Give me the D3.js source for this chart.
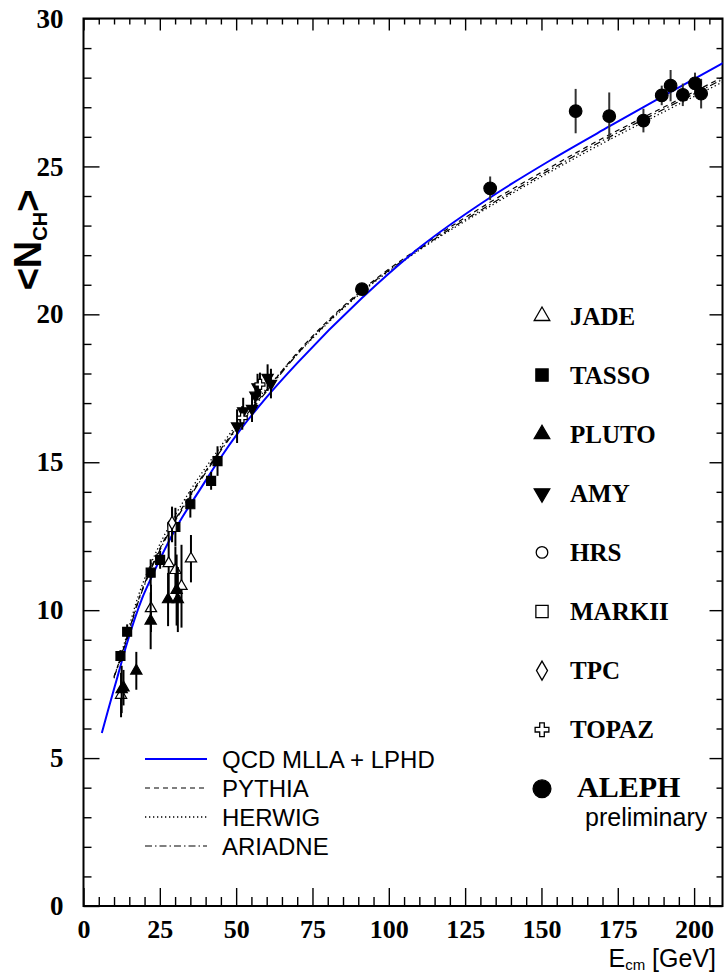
<!DOCTYPE html>
<html>
<head>
<meta charset="utf-8">
<script src="https://cdn.jsdelivr.net/npm/d3@7"></script>
<style>
  body { margin: 0; background: #fff; }
  svg { display: block; }
</style>
</head>
<body>
<div id="chart"></div>
<script>
var jadeE = [12.3, 22.1, 27.9, 30.1, 32.1, 35.2];
var jadeN = [7.13, 10.06, 11.58, 11.35, 10.81, 11.74];
var jadeErr = [0.75, 0.8, 1.3, 0.8, 1.4, 0.8];

var tassoE = [12.1, 14.3, 22.0, 25.1, 30.1, 35.0, 41.8, 43.9];
var tassoN = [8.45, 9.27, 11.27, 11.7, 12.81, 13.58, 14.37, 15.04];
var tassoErr = [0.2, 0.25, 0.45, 0.3, 0.65, 0.45, 0.3, 0.5];

var plutoE = [12.5, 13.1, 17.3, 22.0, 27.7, 30.5, 30.9];
var plutoN = [7.32, 7.38, 7.95, 9.64, 10.36, 10.68, 10.36];
var plutoErr = [0.8, 0.6, 0.64, 0.96, 0.9, 1.2, 1.1];

var amyE = [50.3, 52.3, 55.2, 56.3, 57.0, 60.3, 61.4];
var amyN = [16.22, 16.73, 16.81, 17.26, 17.54, 17.86, 17.66];
var amyErr = [0.57, 0.45, 0.45, 0.42, 0.45, 0.45, 0.5];

var hrsE = [29.0], hrsN = [12.9], hrsErr = [0.6];
var markiiE = [29.0], markiiN = [12.8], markiiErr = [0.5];
var tpcE = [29.0], tpcN = [12.95], tpcErr = [0.5];
var topazE = [52.0, 57.8], topazN = [16.5, 17.63], topazErr = [0.4, 0.4];

var alephE = [91.2, 133.2, 161.2, 172.2, 183.4, 189.4, 192.3, 196.3, 200.3, 202.3];
var alephN = [20.85, 24.26, 26.87, 26.7, 26.55, 27.4, 27.73, 27.42, 27.81, 27.46];
var alephErr = [0.2, 0.4, 0.75, 0.8, 0.4, 0.33, 0.53, 0.38, 0.36, 0.5];

// model curves
var qcdE = [6.0, 8.0, 11.0, 14.0, 19.2, 22.0, 30.7, 38.3, 43.9, 51.4, 60.0, 70.0, 91.2, 110, 133.2, 152.8, 172.2, 189.4, 209.5];
var qcdN = [5.85, 6.6, 7.7, 8.8, 10.4, 11.05, 12.85, 14.1, 15.0, 16.1, 17.2, 18.35, 20.55, 22.25, 23.95, 25.2, 26.35, 27.35, 28.5];

var mcE = [10, 12, 14, 18, 22, 30, 35, 44, 50, 60, 70, 91.2, 110, 133, 150, 170, 190, 209.5];
var pythiaN = [7.75, 8.35, 9.0, 10.35, 11.4, 13.05, 13.9, 15.3, 16.15, 17.45, 18.7, 20.82, 22.25, 23.78, 24.8, 25.95, 27.0, 28.02];
var herwigN = [7.7, 8.4, 9.1, 10.5, 11.55, 13.2, 14.05, 15.4, 16.25, 17.5, 18.65, 20.75, 22.17, 23.64, 24.65, 25.78, 26.84, 27.86];
var ariadneN = [7.75, 8.3, 8.95, 10.3, 11.35, 13.0, 13.85, 15.25, 16.1, 17.4, 18.65, 20.78, 22.2, 23.7, 24.72, 25.87, 26.93, 27.95];

var xMajor = [0, 25, 50, 75, 100, 125, 150, 175, 200];
var yMajor = [0, 5, 10, 15, 20, 25, 30];

var width = 724, height = 977;
var serif = '"Liberation Serif", "Times New Roman", serif';
var sans = '"Liberation Sans", Arial, sans-serif';

var x = d3.scaleLinear().domain([0, 209.3]).range([83.5, 722.5]);
var y = d3.scaleLinear().domain([0, 30]).range([906, 18.5]);

var svg = d3.select('#chart').append('svg')
    .attr('width', width)
    .attr('height', height);

svg.append('defs').append('clipPath').attr('id', 'clip')
    .append('rect')
    .attr('x', x(0)).attr('y', y(30))
    .attr('width', x(209.3) - x(0)).attr('height', y(0) - y(30));

// axes: ticks point into the frame
function styleAxis(g) {
    g.select('.domain').remove();
    g.selectAll('line').attr('stroke', '#000').attr('stroke-width', 1.4);
}

var xMinor = d3.range(0, 210, 5).filter(function (v) { return v % 25 !== 0; });
var yMinor = d3.range(0, 31, 1).filter(function (v) { return v % 5 !== 0; });

svg.append('g').attr('transform', 'translate(0,' + y(0) + ')')
    .call(d3.axisBottom(x).tickValues(xMajor).tickSizeInner(-18).tickSizeOuter(0).tickPadding(14))
    .call(styleAxis)
    .selectAll('text')
    .attr('font-family', serif).attr('font-weight', 'bold').attr('font-size', 26).attr('fill', '#000');
svg.append('g').attr('transform', 'translate(0,' + y(0) + ')')
    .call(d3.axisBottom(x).tickValues(xMinor).tickSizeInner(-9).tickSizeOuter(0).tickFormat(''))
    .call(styleAxis);

svg.append('g').attr('transform', 'translate(' + x(0) + ',0)')
    .call(d3.axisLeft(y).tickValues(yMajor).tickSizeInner(-16).tickSizeOuter(0).tickPadding(20))
    .call(styleAxis)
    .selectAll('text')
    .attr('font-family', serif).attr('font-weight', 'bold').attr('font-size', 27).attr('fill', '#000');
svg.append('g').attr('transform', 'translate(' + x(0) + ',0)')
    .call(d3.axisLeft(y).tickValues(yMinor).tickSizeInner(-8).tickSizeOuter(0).tickFormat(''))
    .call(styleAxis);

svg.append('g').attr('transform', 'translate(0,' + y(30) + ')')
    .call(d3.axisTop(x).tickValues(xMajor).tickSizeInner(-12).tickSizeOuter(0).tickFormat(''))
    .call(styleAxis);
svg.append('g').attr('transform', 'translate(0,' + y(30) + ')')
    .call(d3.axisTop(x).tickValues(xMinor).tickSizeInner(-6).tickSizeOuter(0).tickFormat(''))
    .call(styleAxis);

svg.append('g').attr('transform', 'translate(' + x(209.3) + ',0)')
    .call(d3.axisRight(y).tickValues(yMajor).tickSizeInner(-13).tickSizeOuter(0).tickFormat(''))
    .call(styleAxis);
svg.append('g').attr('transform', 'translate(' + x(209.3) + ',0)')
    .call(d3.axisRight(y).tickValues(yMinor).tickSizeInner(-6).tickSizeOuter(0).tickFormat(''))
    .call(styleAxis);

svg.append('rect')
    .attr('x', x(0)).attr('y', y(30))
    .attr('width', x(209.3) - x(0)).attr('height', y(0) - y(30))
    .attr('fill', 'none').attr('stroke', '#000').attr('stroke-width', 2);

// axis titles
var yt = svg.append('text')
    .attr('transform', 'translate(41,240) rotate(-90)')
    .attr('text-anchor', 'middle')
    .attr('font-family', sans).attr('font-weight', 'bold').attr('font-size', 38);
yt.append('tspan').text('<N');
yt.append('tspan').attr('font-size', 20).attr('dy', 6).text('CH');
yt.append('tspan').attr('dy', -6).text('>');

var xt = svg.append('text')
    .attr('x', 716).attr('y', 967)
    .attr('text-anchor', 'end')
    .attr('font-family', sans).attr('font-size', 25);
xt.append('tspan').text('E');
xt.append('tspan').attr('font-size', 15).attr('dy', 3).text('cm');
xt.append('tspan').attr('dy', -3).text(' [GeV]');

// curves
var line = d3.line()
    .x(function (d) { return x(d[0]); })
    .y(function (d) { return y(d[1]); })
    .curve(d3.curveMonotoneX);

function zipPts(es, ns) {
    return es.map(function (e, i) { return [e, ns[i]]; });
}

var curves = [
    { pts: zipPts(mcE, herwigN), color: '#000', w: 1.3, dash: '1.3,2.7' },
    { pts: zipPts(mcE, pythiaN), color: '#000', w: 1.2, dash: '5,4' },
    { pts: zipPts(mcE, ariadneN), color: '#000', w: 1.2, dash: '7,3,1.5,3' },
    { pts: zipPts(qcdE, qcdN), color: '#0000ff', w: 2, dash: null }
];

var cg = svg.append('g').attr('clip-path', 'url(#clip)');
curves.forEach(function (c) {
    cg.append('path')
        .attr('d', line(c.pts))
        .attr('fill', 'none')
        .attr('stroke', c.color)
        .attr('stroke-width', c.w)
        .attr('stroke-dasharray', c.dash);
});

// data sets
var sets = [
    { name: 'JADE', e: jadeE, n: jadeN, err: jadeErr, type: d3.symbolTriangle, size: 55, fill: '#fff', rot: 0 },
    { name: 'TASSO', e: tassoE, n: tassoN, err: tassoErr, type: d3.symbolSquare, size: 80, fill: '#000', rot: 0 },
    { name: 'PLUTO', e: plutoE, n: plutoN, err: plutoErr, type: d3.symbolTriangle, size: 55, fill: '#000', rot: 0 },
    { name: 'AMY', e: amyE, n: amyN, err: amyErr, type: d3.symbolTriangle, size: 55, fill: '#000', rot: 180 },
    { name: 'HRS', e: hrsE, n: hrsN, err: hrsErr, type: d3.symbolCircle, size: 60, fill: '#fff', rot: 0 },
    { name: 'MARKII', e: markiiE, n: markiiN, err: markiiErr, type: d3.symbolSquare, size: 70, fill: '#fff', rot: 0 },
    { name: 'TPC', e: tpcE, n: tpcN, err: tpcErr, type: d3.symbolDiamond, size: 50, fill: '#fff', rot: 0 },
    { name: 'TOPAZ', e: topazE, n: topazN, err: topazErr, type: d3.symbolCross, size: 55, fill: '#fff', rot: 0 },
    { name: 'ALEPH', e: alephE, n: alephN, err: alephErr, type: d3.symbolCircle, size: 125, fill: '#000', rot: 0 }
];

var pg = svg.append('g');
sets.forEach(function (s) {
    var g = pg.append('g');
    s.e.forEach(function (e, i) {
        g.append('line')
            .attr('x1', x(e)).attr('x2', x(e))
            .attr('y1', y(s.n[i] - s.err[i])).attr('y2', y(s.n[i] + s.err[i]))
            .attr('stroke', s.name === 'ALEPH' ? '#333' : '#000')
            .attr('stroke-width', 2);
    });
    g.selectAll('path').data(s.e).enter().append('path')
        .attr('d', d3.symbol().type(s.type).size(s.size))
        .attr('transform', function (e, i) {
            return 'translate(' + x(e) + ',' + y(s.n[i]) + ') rotate(' + s.rot + ')';
        })
        .attr('fill', s.fill)
        .attr('stroke', '#000')
        .attr('stroke-width', 1.2);
});

// legend of experiments
var lg = svg.append('g');
sets.forEach(function (s, i) {
    var ly = 316 + i * 59.1;
    var big = s.name === 'ALEPH';
    lg.append('path')
        .attr('d', d3.symbol().type(s.type).size(big ? 250 : (s.type === d3.symbolSquare ? 150 : 105)))
        .attr('transform', 'translate(542,' + ly + ') rotate(' + s.rot + ')')
        .attr('fill', s.fill)
        .attr('stroke', '#000')
        .attr('stroke-width', 1.3);
    lg.append('text')
        .attr('x', big ? 577 : 570).attr('y', big ? ly - 2 : ly).attr('dy', '0.35em')
        .attr('font-family', serif).attr('font-weight', 'bold')
        .attr('font-size', big ? 30 : 25)
        .text(s.name);
});
lg.append('text')
    .attr('x', 585).attr('y', 826)
    .attr('font-family', sans).attr('font-size', 25)
    .text('preliminary');

// legend of curves
var curveNames = ['QCD MLLA + LPHD', 'PYTHIA', 'HERWIG', 'ARIADNE'];
var curveOrder = [3, 1, 0, 2];
var cl = svg.append('g');
curveNames.forEach(function (nm, i) {
    var c = curves[curveOrder[i]];
    var ly = 759 + i * 29;
    cl.append('line')
        .attr('x1', 145).attr('x2', 207)
        .attr('y1', ly).attr('y2', ly)
        .attr('stroke', c.color)
        .attr('stroke-width', c.w)
        .attr('stroke-dasharray', c.dash);
    cl.append('text')
        .attr('x', 222).attr('y', ly).attr('dy', '0.36em')
        .attr('font-family', sans).attr('font-size', 24)
        .text(nm);
});
</script>
</body>
</html>
